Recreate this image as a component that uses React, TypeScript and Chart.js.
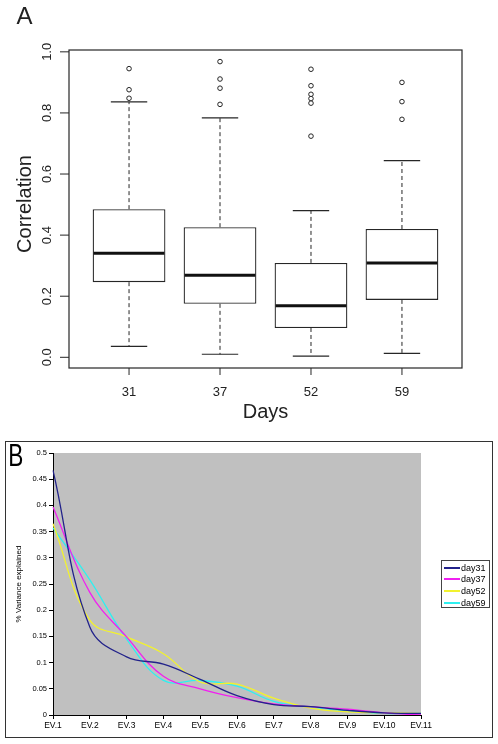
import React, { useEffect, useRef } from 'react';
import { Chart, registerables } from 'chart.js';

Chart.register(...registerables);

const FONT = "'Liberation Sans', Arial, Helvetica, sans-serif";

// ---------- Panel A: box plot data ----------
const days = ['31', '37', '52', '59'];
const lowerWhisker = [0.036, 0.010, 0.004, 0.013];
const q1 = [0.246, 0.175, 0.096, 0.188];
const median = [0.341, 0.269, 0.169, 0.309];
const q3 = [0.485, 0.426, 0.309, 0.420];
const upperWhisker = [0.836, 0.784, 0.480, 0.644];
const outliers31 = [0.945, 0.876, 0.848];
const outliers37 = [0.968, 0.911, 0.881, 0.828];
const outliers52 = [0.943, 0.889, 0.861, 0.847, 0.832, 0.724];
const outliers59 = [0.900, 0.837, 0.779];
const corrTicks = [0, 0.2, 0.4, 0.6, 0.8, 1.0];

// ---------- Panel B: variance explained data ----------
const evLabels = ['EV.1', 'EV.2', 'EV.3', 'EV.4', 'EV.5', 'EV.6', 'EV.7', 'EV.8', 'EV.9', 'EV.10', 'EV.11'];
const day31 = [0.467, 0.168, 0.111, 0.097, 0.068, 0.037, 0.020, 0.016, 0.009, 0.004, 0.003];
const day37 = [0.397, 0.234, 0.149, 0.074, 0.050, 0.033, 0.021, 0.016, 0.011, 0.004, 0.000];
const day52 = [0.365, 0.181, 0.149, 0.117, 0.063, 0.059, 0.032, 0.013, 0.006, 0.004, 0.003];
const day59 = [0.357, 0.258, 0.145, 0.066, 0.066, 0.055, 0.026, 0.015, 0.008, 0.003, 0.003];
const seriesNames = ['day31', 'day37', 'day52', 'day59'];
const seriesColors = ['#22228a', '#f020f0', '#f2f22e', '#2ef0f0'];
const varTickStep = 0.05;

function BoxChart() {
  const ref = useRef<HTMLCanvasElement>(null);
  useEffect(() => {
    const outlierGroups = [outliers31, outliers37, outliers52, outliers59];
    const boxes = days.map((_, i) => ({ x: i + 1, y: [q1[i], q3[i]] }));
    const points = outlierGroups.flatMap((g, i) => g.map((v) => ({ x: i + 1, y: v })));

    const rPlot = {
      id: 'rPlot',
      beforeDraw(chart: any) {
        const { ctx } = chart;
        ctx.save();
        ctx.fillStyle = '#fff';
        ctx.fillRect(0, 0, chart.width, chart.height);
        ctx.restore();
      },
      afterDatasetsDraw(chart: any) {
        const { ctx, chartArea: a, scales } = chart;
        const x = scales.x;
        const y = scales.y;
        const seg = (x1: number, y1: number, x2: number, y2: number) => {
          ctx.beginPath();
          ctx.moveTo(x1, y1);
          ctx.lineTo(x2, y2);
          ctx.stroke();
        };
        ctx.save();
        days.forEach((_, i) => {
          const cx = x.getPixelForValue(i + 1);
          const cap = x.getPixelForValue(i + 1.2) - cx;
          const half = x.getPixelForValue(i + 1.4) - cx;
          const yU = y.getPixelForValue(upperWhisker[i]);
          const yL = y.getPixelForValue(lowerWhisker[i]);
          ctx.strokeStyle = '#262626';
          ctx.lineWidth = 1;
          ctx.setLineDash([4, 3]);
          seg(cx, y.getPixelForValue(q3[i]), cx, yU);
          seg(cx, y.getPixelForValue(q1[i]), cx, yL);
          ctx.setLineDash([]);
          ctx.lineWidth = 1.2;
          seg(cx - cap, yU, cx + cap, yU);
          seg(cx - cap, yL, cx + cap, yL);
          ctx.lineWidth = 3;
          ctx.strokeStyle = '#111';
          const yM = y.getPixelForValue(median[i]);
          seg(cx - half + 1, yM, cx + half - 1, yM);
        });
        // frame
        ctx.strokeStyle = '#262626';
        ctx.lineWidth = 1.2;
        ctx.strokeRect(a.left, a.top, a.width, a.height);
        // y axis ticks + rotated labels
        ctx.fillStyle = '#222';
        ctx.lineWidth = 1;
        ctx.font = `13px ${FONT}`;
        corrTicks.forEach((v) => {
          const py = y.getPixelForValue(v);
          seg(a.left - 9, py, a.left, py);
          ctx.save();
          ctx.translate(51, py);
          ctx.rotate(-Math.PI / 2);
          ctx.textAlign = 'center';
          ctx.textBaseline = 'alphabetic';
          ctx.fillText(v.toFixed(1), 0, 0);
          ctx.restore();
        });
        // x axis ticks + labels
        ctx.textAlign = 'center';
        ctx.textBaseline = 'middle';
        days.forEach((d, i) => {
          const px = x.getPixelForValue(i + 1);
          seg(px, a.bottom, px, a.bottom + 7);
          ctx.fillText(d, px, 392);
        });
        // axis titles
        ctx.font = `20px ${FONT}`;
        ctx.textBaseline = 'alphabetic';
        ctx.fillText('Days', (a.left + a.right) / 2, 418);
        ctx.save();
        ctx.translate(31, 204);
        ctx.rotate(-Math.PI / 2);
        ctx.textAlign = 'center';
        ctx.fillText('Correlation', 0, 0);
        ctx.restore();
        // panel letter
        ctx.font = `24px ${FONT}`;
        ctx.textAlign = 'left';
        ctx.fillText('A', 16.5, 24);
        ctx.restore();
      },
    };

    const chart = new Chart(ref.current as HTMLCanvasElement, {
      type: 'bar',
      data: {
        datasets: [
          {
            type: 'bar',
            data: boxes as any,
            backgroundColor: '#fff',
            borderColor: '#262626',
            borderWidth: 1.3,
            borderSkipped: false,
            barPercentage: 0.8,
            categoryPercentage: 1,
          } as any,
          {
            type: 'scatter',
            data: points,
            pointRadius: 2.3,
            pointBorderWidth: 1,
            pointBorderColor: '#262626',
            pointBackgroundColor: '#fff',
            showLine: false,
          } as any,
        ],
      },
      options: {
        animation: false,
        responsive: false,
        events: [],
        layout: { padding: { left: 69, right: 36, top: 50, bottom: 62 } },
        plugins: { legend: { display: false }, tooltip: { enabled: false } },
        scales: {
          x: {
            type: 'linear',
            min: 0.34,
            max: 4.66,
            offset: false,
            display: false,
            ticks: { stepSize: 1, includeBounds: false },
          },
          y: { type: 'linear', min: -0.035, max: 1.006, display: false },
        },
      } as any,
      plugins: [rPlot],
    });
    return () => chart.destroy();
  }, []);
  return <canvas ref={ref} width={498} height={430} style={{ position: 'absolute', left: 0, top: 0 }} />;
}

function ScreeChart() {
  const ref = useRef<HTMLCanvasElement>(null);
  const seriesValues = [day31, day37, day52, day59];
  useEffect(() => {
    const bg = {
      id: 'plotBg',
      beforeDraw(chart: any) {
        const { ctx, chartArea: a } = chart;
        ctx.save();
        ctx.fillStyle = '#fff';
        ctx.fillRect(0, 0, chart.width, chart.height);
        ctx.fillStyle = '#c0c0c0';
        ctx.fillRect(a.left, a.top, a.width, a.height);
        ctx.restore();
      },
      afterDraw(chart: any) {
        const { ctx } = chart;
        ctx.save();
        ctx.fillStyle = '#000';
        ctx.font = `26px ${FONT}`;
        ctx.textBaseline = 'alphabetic';
        ctx.translate(2.3, 24);
        ctx.scale(0.87, 1.22);
        ctx.fillText('B', 0, 0);
        ctx.restore();
      },
    };
    const chart = new Chart(ref.current as HTMLCanvasElement, {
      type: 'line',
      data: {
        labels: evLabels,
        datasets: seriesValues.map((v, i) => ({
          label: seriesNames[i],
          data: v,
          borderColor: seriesColors[i],
          backgroundColor: seriesColors[i],
          borderWidth: 1.3,
          pointRadius: 0,
          tension: 0.4,
          fill: false,
        })),
      },
      options: {
        animation: false,
        responsive: false,
        events: [],
        layout: { padding: { top: 11, right: 71, left: 0, bottom: 0 } },
        plugins: { legend: { display: false }, tooltip: { enabled: false } },
        scales: {
          x: {
            type: 'category',
            offset: false,
            grid: { drawOnChartArea: false, drawTicks: true, tickLength: 4, color: '#000' },
            border: { color: '#000', width: 1 },
            ticks: { font: { family: FONT, size: 8.5 }, color: '#000', padding: 2, maxRotation: 0, autoSkip: false },
            afterFit(s: any) {
              s.height = 22;
            },
          },
          y: {
            min: 0,
            max: 0.5,
            ticks: {
              stepSize: varTickStep,
              font: { family: FONT, size: 7.5 },
              color: '#000',
              padding: 2,
              callback: (v: any) => String(parseFloat(Number(v).toFixed(2))),
            },
            grid: { drawOnChartArea: false, drawTicks: true, tickLength: 4, color: '#000' },
            border: { color: '#000', width: 1 },
            title: {
              display: true,
              text: '% Variance explained',
              font: { family: FONT, size: 8 },
              color: '#000',
              padding: { top: 8, bottom: 0 },
            },
            afterFit(s: any) {
              s.width = 47;
            },
          },
        },
      } as any,
      plugins: [bg],
    });
    return () => chart.destroy();
  }, []);
  return (
    <div
      style={{
        position: 'absolute',
        left: 5,
        top: 441,
        width: 488,
        height: 297,
        border: '1px solid #333',
        boxSizing: 'border-box',
        background: '#fff',
      }}
    >
      <canvas ref={ref} width={486} height={295} style={{ position: 'absolute', left: 0, top: 0 }} />
      <div
        style={{
          position: 'absolute',
          left: 435,
          top: 118,
          width: 49,
          height: 48,
          border: '1px solid #444',
          boxSizing: 'border-box',
          background: '#fff',
        }}
      >
        {seriesNames.map((name, i) => (
          <div
            key={name}
            style={{
              position: 'absolute',
              left: 2,
              top: 0.5 + i * 11.7,
              height: 12,
              display: 'flex',
              alignItems: 'center',
              whiteSpace: 'nowrap',
            }}
          >
            <span style={{ display: 'inline-block', width: 16, height: 2, background: seriesColors[i] }} />
            <span style={{ marginLeft: 1, fontFamily: FONT, fontSize: 9, color: '#000', lineHeight: '12px' }}>{name}</span>
          </div>
        ))}
      </div>
    </div>
  );
}

export default function App() {
  return (
    <div
      style={{
        position: 'absolute',
        left: 0,
        top: 0,
        width: 498,
        height: 744,
        background: '#fff',
        overflow: 'hidden',
      }}
    >
      <BoxChart />
      <ScreeChart />
    </div>
  );
}
